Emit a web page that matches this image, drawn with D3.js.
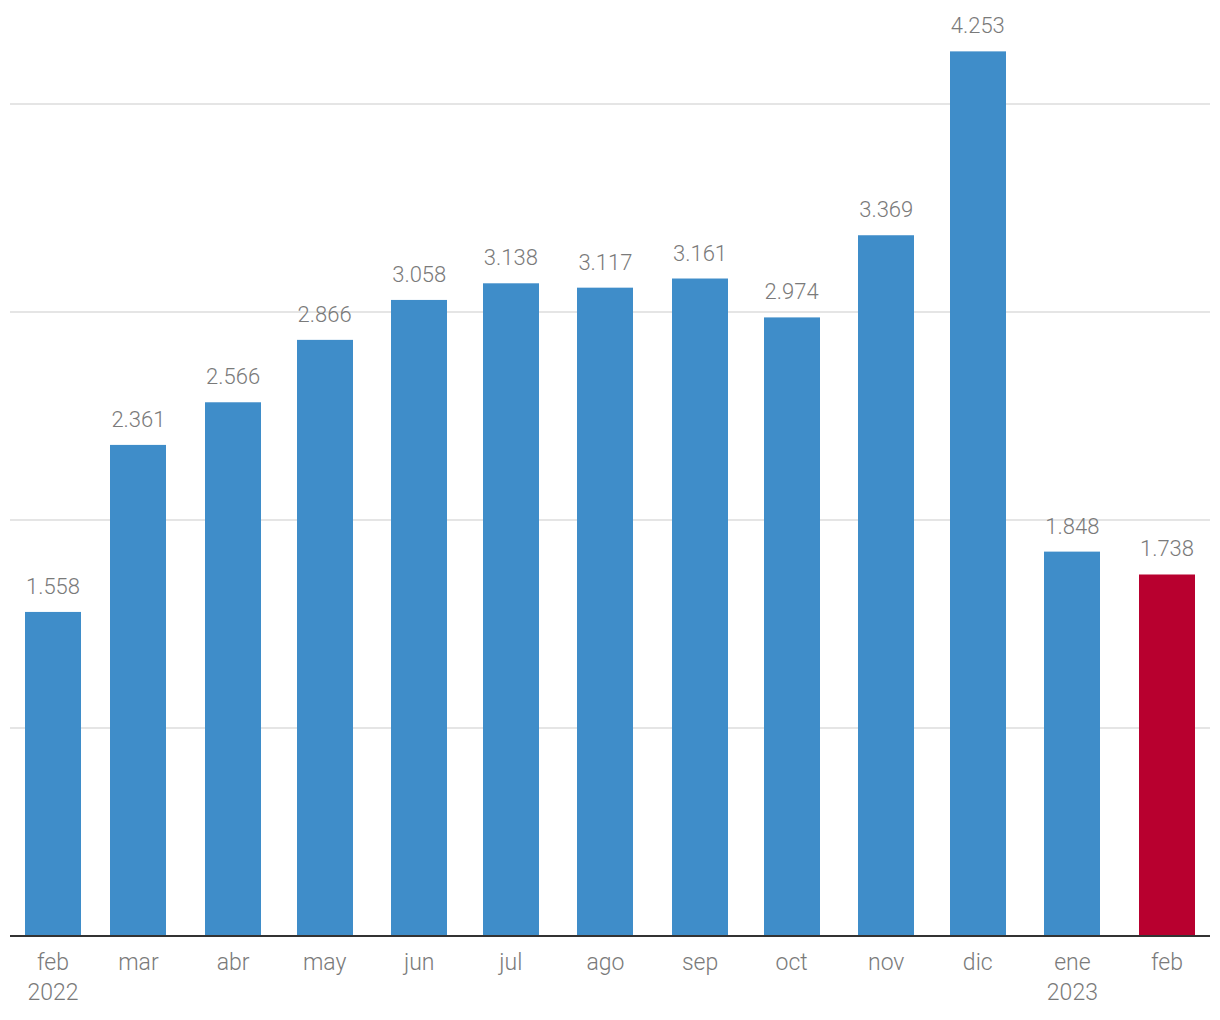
<!DOCTYPE html>
<html>
<head>
<meta charset="utf-8">
<script src="https://cdn.jsdelivr.net/npm/d3@7"></script>
<style>
  body { margin: 0; background: #fff; }
  text { font-family: Roboto, "Noto Sans", sans-serif; font-weight: 300; fill: #7a7a7a; }
</style>
</head>
<body>
<script>
// monthly values (thousands), one bar per month
var dates = ["2022-02-01", "2022-03-01", "2022-04-01", "2022-05-01", "2022-06-01", "2022-07-01",
             "2022-08-01", "2022-09-01", "2022-10-01", "2022-11-01", "2022-12-01", "2023-01-01", "2023-02-01"];
var months = ["feb", "mar", "abr", "may", "jun", "jul", "ago", "sep", "oct", "nov", "dic", "ene", "feb"];
var years = ["2022", "", "", "", "", "", "", "", "", "", "", "2023", ""];
var values = [1558, 2361, 2566, 2866, 3058, 3138, 3117, 3161, 2974, 3369, 4253, 1848, 1738];
var labels = ["1.558", "2.361", "2.566", "2.866", "3.058", "3.138", "3.117", "3.161", "2.974", "3.369", "4.253", "1.848", "1.738"];
var gridTicks = [1000, 2000, 3000, 4000];

var width = 1220,
    height = 1020,
    barWidth = 56;

var svg = d3.select("body")
    .append("svg")
    .attr("width", width)
    .attr("height", height);

var parse = d3.utcParse("%Y-%m-%d");
var days = dates.map(parse);

//time scale: bars are centred on the first of each month
var x = d3.scaleUtc()
    .domain([days[0], days[days.length - 1]])
    .range([53, 1167]);

// 208px per 1000
var y = d3.scaleLinear()
    .domain([0, 4000])
    .range([936, 104]);

//gridlines
svg.selectAll(".grid")
    .data(gridTicks)
    .enter()
    .append("line")
    .attr("x1", 10)
    .attr("x2", 1210)
    .attr("y1", function(d){ return y(d); })
    .attr("y2", function(d){ return y(d); })
    .attr("stroke", "#e5e5e5")
    .attr("stroke-width", 2);

//bars
svg.selectAll(".bar")
    .data(values)
    .enter()
    .append("rect")
    .attr("x", function(d, i){ return Math.round(x(days[i]) - barWidth / 2); })
    .attr("y", function(d){ return y(d); })
    .attr("width", barWidth)
    .attr("height", function(d){ return y(0) - y(d); })
    .attr("fill", function(d, i){ return i == values.length - 1 ? "#b8002f" : "#3f8dc9"; });

//value labels
svg.selectAll(".val")
    .data(values)
    .enter()
    .append("text")
    .attr("x", function(d, i){ return x(days[i]); })
    .attr("y", function(d){ return y(d) - 18; })
    .attr("text-anchor", "middle")
    .style("font-size", "22px")
    .text(function(d, i){ return labels[i]; });

//baseline
svg.append("line")
    .attr("x1", 10)
    .attr("x2", 1210)
    .attr("y1", y(0))
    .attr("y2", y(0))
    .attr("stroke", "#333")
    .attr("stroke-width", 2);

//month labels
svg.selectAll(".month")
    .data(months)
    .enter()
    .append("text")
    .attr("x", function(d, i){ return x(days[i]); })
    .attr("y", 970)
    .attr("text-anchor", "middle")
    .style("font-size", "23px")
    .text(function(d){ return d; });

svg.selectAll(".year")
    .data(years)
    .enter()
    .append("text")
    .attr("x", function(d, i){ return x(days[i]); })
    .attr("y", 1000)
    .attr("text-anchor", "middle")
    .style("font-size", "23px")
    .text(function(d){ return d; });
</script>
</body>
</html>
